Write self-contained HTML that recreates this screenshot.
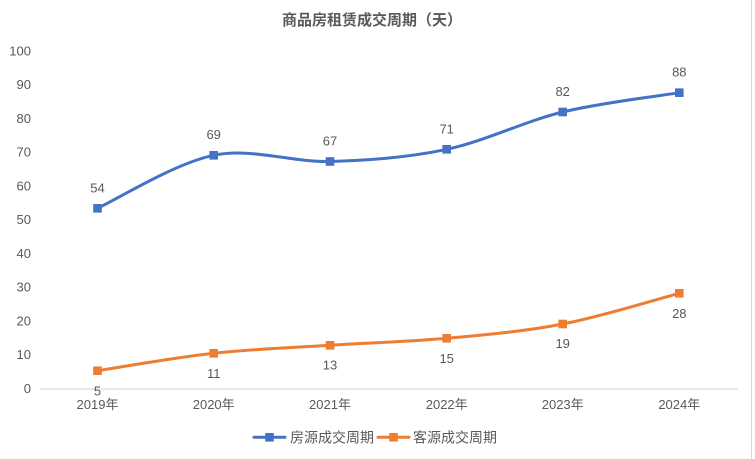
<!DOCTYPE html>
<html><head><meta charset="utf-8">
<style>
html,body{margin:0;padding:0;background:#fff;}
svg{display:block;}
text{font-family:"Liberation Sans","Noto Sans CJK SC",sans-serif;fill:#595959;}
</style></head>
<body>
<svg width="755" height="459" viewBox="0 0 755 459" xmlns="http://www.w3.org/2000/svg">
<rect x="0" y="0" width="755" height="459" fill="#fff"/>
<line x1="751.5" y1="0" x2="751.5" y2="459" stroke="#d9d9d9" stroke-width="1"/>
<text x="372" y="25" font-size="15" font-weight="bold" text-anchor="middle">商品房租赁成交周期（天）</text>
<g font-size="13" text-anchor="end">
<text x="31" y="393">0</text>
<text x="31" y="359.2">10</text>
<text x="31" y="325.5">20</text>
<text x="31" y="291.7">30</text>
<text x="31" y="258">40</text>
<text x="31" y="224.2">50</text>
<text x="31" y="190.4">60</text>
<text x="31" y="156.7">70</text>
<text x="31" y="122.9">80</text>
<text x="31" y="89.2">90</text>
<text x="31" y="55.4">100</text>
</g>
<line x1="40" y1="389" x2="738" y2="389" stroke="#d9d9d9" stroke-width="1.2"/>
<g font-size="13" text-anchor="middle">
<text x="97.5" y="409">2019年</text>
<text x="213.7" y="409">2020年</text>
<text x="330" y="409">2021年</text>
<text x="446.7" y="409">2022年</text>
<text x="562.7" y="409">2023年</text>
<text x="679.3" y="409">2024年</text>
</g>
<path d="M97.5,208.3 C116.87,199.47 174.95,163.1 213.7,155.3 C252.45,147.5 291.17,162.5 330,161.5 C368.83,160.5 407.92,157.55 446.7,149.3 C485.48,141.05 523.93,121.43 562.7,112 C601.47,102.57 659.87,95.92 679.3,92.7" fill="none" stroke="#4472C4" stroke-width="3" stroke-linecap="round"/>
<path d="M97.5,370.7 C116.87,367.8 174.95,357.53 213.7,353.3 C252.45,349.07 291.17,347.8 330,345.3 C368.83,342.8 407.92,341.85 446.7,338.3 C485.48,334.75 523.93,331.5 562.7,324 C601.47,316.5 659.87,298.42 679.3,293.3" fill="none" stroke="#ED7D31" stroke-width="3" stroke-linecap="round"/>
<g fill="#4472C4">
<rect x="93.2" y="204" width="8.6" height="8.6"/>
<rect x="209.4" y="151" width="8.6" height="8.6"/>
<rect x="325.7" y="157.2" width="8.6" height="8.6"/>
<rect x="442.4" y="145" width="8.6" height="8.6"/>
<rect x="558.4" y="107.7" width="8.6" height="8.6"/>
<rect x="675" y="88.4" width="8.6" height="8.6"/>
</g>
<g fill="#ED7D31">
<rect x="93.2" y="366.4" width="8.6" height="8.6"/>
<rect x="209.4" y="349" width="8.6" height="8.6"/>
<rect x="325.7" y="341" width="8.6" height="8.6"/>
<rect x="442.4" y="334" width="8.6" height="8.6"/>
<rect x="558.4" y="319.7" width="8.6" height="8.6"/>
<rect x="675" y="289" width="8.6" height="8.6"/>
</g>
<g font-size="13" text-anchor="middle">
<text x="97.5" y="192.4">54</text>
<text x="213.7" y="139">69</text>
<text x="330" y="145.4">67</text>
<text x="446.7" y="133.7">71</text>
<text x="562.7" y="96">82</text>
<text x="679.3" y="76.7">88</text>
<text x="97.5" y="395.4">5</text>
<text x="213.7" y="378">11</text>
<text x="330" y="369.7">13</text>
<text x="446.7" y="363">15</text>
<text x="562.7" y="348">19</text>
<text x="679.3" y="318">28</text>
</g>
<line x1="254" y1="437.3" x2="285" y2="437.3" stroke="#4472C4" stroke-width="3" stroke-linecap="round"/>
<rect x="265.2" y="433" width="8.6" height="8.6" fill="#4472C4"/>
<text x="290" y="442.5" font-size="14">房源成交周期</text>
<line x1="378" y1="437.3" x2="409" y2="437.3" stroke="#ED7D31" stroke-width="3" stroke-linecap="round"/>
<rect x="389.2" y="433" width="8.6" height="8.6" fill="#ED7D31"/>
<text x="413" y="442.5" font-size="14">客源成交周期</text>
</svg>
</body></html>
